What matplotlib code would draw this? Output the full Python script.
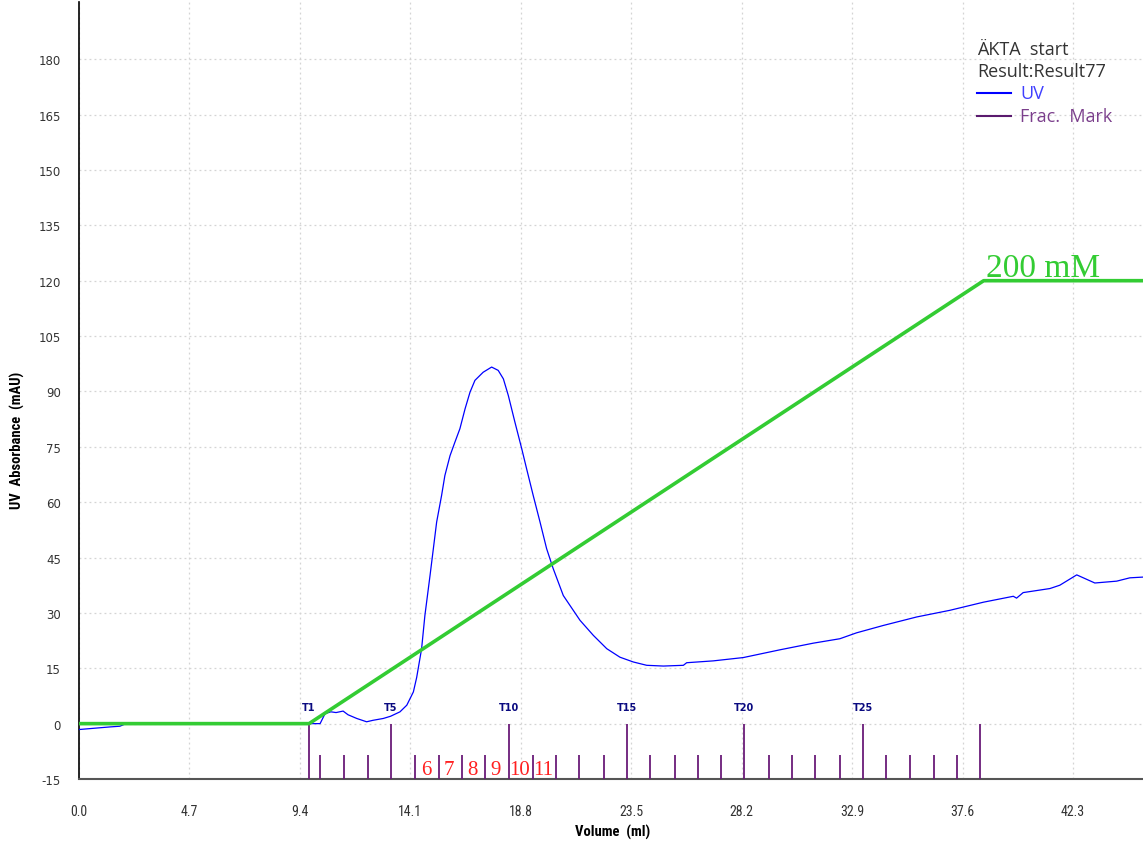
import matplotlib
matplotlib.use("Agg")
import matplotlib.pyplot as plt
from matplotlib import font_manager

# UV trace (volume in ml, absorbance in mAU)
uv_ml = [0.0, 1.3, 1.74, 2.0, 9.79, 10.26, 10.47, 10.72, 10.94, 11.24, 11.45, 11.82,
         12.24, 12.51, 12.95, 13.26, 13.66, 13.95, 14.23, 14.37, 14.58, 14.72, 14.94,
         15.08, 15.22, 15.43, 15.57, 15.79, 16.0, 16.21, 16.43, 16.64, 16.85, 17.2,
         17.56, 17.84, 18.06, 18.27, 18.55, 18.84, 19.05, 19.33, 19.62, 19.9, 20.18,
         20.61, 21.32, 21.89, 22.46, 23.02, 23.59, 24.16, 24.87, 25.72, 25.86, 26.99,
         28.27, 29.83, 31.25, 32.38, 33.09, 34.23, 35.65, 37.06, 38.49, 39.76, 39.9,
         40.18, 41.32, 41.74, 42.46, 43.23, 44.16, 44.72, 45.28]
uv_mau = [-1.6, -0.9, -0.7, 0.0, 0.0, 0.0, 2.7, 3.2, 3.0, 3.4, 2.4, 1.4,
          0.5, 0.9, 1.4, 2.0, 3.2, 5.0, 8.6, 12.5, 20.3, 29.3, 40.2,
          47.4, 54.6, 61.8, 67.2, 72.6, 76.3, 79.9, 85.3, 89.8, 93.0, 95.2,
          96.6, 95.7, 93.4, 88.9, 81.7, 74.5, 69.0, 61.8, 54.6, 47.4, 42.0,
          34.7, 28.0, 23.9, 20.3, 18.0, 16.7, 15.8, 15.6, 15.8, 16.5, 17.0,
          17.9, 20.0, 21.8, 23.0, 24.6, 26.6, 28.9, 30.7, 32.9, 34.5, 34.0,
          35.5, 36.6, 37.5, 40.3, 38.1, 38.6, 39.5, 39.7]

# Salt gradient (drawn on the mAU scale, 120 = 200 mM)
grad_ml = [0.0, 9.79, 38.5, 45.28]
grad_val = [0.0, 0.0, 120.0, 120.0]

# Fraction marks T1..T30
frac_ml = [9.79, 10.26, 11.28, 12.30, 13.26, 14.30, 15.32, 16.30, 17.28, 18.31,
           19.32, 20.30, 21.28, 22.33, 23.32, 24.30, 25.35, 26.33, 27.32, 28.31,
           29.36, 30.34, 31.33, 32.37, 33.35, 34.34, 35.35, 36.38, 37.36, 38.35]
frac_labeled = [1, 5, 10, 15, 20, 25]
collected = [6, 7, 8, 9, 10, 11]

x_ticks = [0.0, 4.7, 9.4, 14.1, 18.8, 23.5, 28.2, 32.9, 37.6, 42.3]
y_ticks = list(range(-15, 181, 15))


def pick_font(*names):
    avail = {f.name for f in font_manager.fontManager.ttflist}
    for n in names:
        if n in avail:
            return n
    return "DejaVu Sans"


narrow = pick_font("Liberation Sans Narrow", "DejaVu Sans Condensed", "Roboto Condensed", "DejaVu Sans")
legend_font = pick_font("Open Sans", "DejaVu Sans")

W, H = 1143, 845
fig = plt.figure(figsize=(W / 100, H / 100), dpi=100)
ax = fig.add_axes([79 / W, 1 - 780 / H, (W - 79) / W, (780 - 3) / H])

ax.set_xlim(0, 45.28)
ax.set_ylim(-15, 195.5)

# grid
ax.set_xticks(x_ticks)
ax.set_yticks(y_ticks)
ax.grid(True, color="#d4d4d4", linestyle=(0, (1.5, 2.5)), linewidth=0.9)
ax.set_axisbelow(True)

for s in ("top", "right"):
    ax.spines[s].set_visible(False)
ax.spines["left"].set_color("black")
ax.spines["left"].set_linewidth(1.2)
ax.spines["bottom"].set_color("#555555")
ax.spines["bottom"].set_linewidth(1.5)

ax.tick_params(axis="both", length=0, colors="#333333")
ax.tick_params(axis="y", pad=13, labelsize=8.5)
ax.tick_params(axis="x", pad=18, labelsize=10)
ax.set_xticklabels([f"{v:.1f}" for v in x_ticks], fontfamily=narrow)
ax.set_yticklabels([str(v) for v in y_ticks], fontfamily="DejaVu Sans")

ax.set_xlabel("Volume  (ml)", fontsize=10.5, fontweight="bold", fontfamily=narrow)
ax.set_ylabel("UV  Absorbance  (mAU)", fontsize=10.5, fontweight="bold",
              fontfamily=narrow)
ax.xaxis.set_label_coords((613 - 79) / (W - 79), -(825 - 780) / (780 - 3))
ax.yaxis.set_label_coords(-(79 - 25) / (W - 79), (780 - 440) / (780 - 3))

# fraction marks
mark_color = "#6a1b78"
for i, x in enumerate(frac_ml, start=1):
    top = 0.0 if (i == 1 or i % 5 == 0) else -8.4
    ax.plot([x, x], [-15, top], color=mark_color, linewidth=1.3, solid_capstyle="butt",
            zorder=3)
for n in frac_labeled:
    ax.text(frac_ml[n - 1], 4.6, f"T{n}", ha="center", va="center", fontsize=7,
            fontweight="bold", color="#0a0a80", fontfamily="DejaVu Sans")
for n in collected:
    mid = (frac_ml[n - 1] + frac_ml[n]) / 2
    ax.text(mid - 0.05, -12.3, str(n), ha="center", va="center", fontsize=15,
            color="#ff2020", fontfamily="Liberation Serif")

# UV curve and gradient
ax.plot(uv_ml, uv_mau, color="#0000ff", linewidth=0.9, zorder=4)
ax.plot(grad_ml, grad_val, color="#33cc33", linewidth=2.6, zorder=5,
        solid_capstyle="butt")
ax.text(38.6, 121.4, "200 mM", ha="left", va="baseline", fontsize=24,
        color="#33cc33", fontfamily="Liberation Serif")

# header / legend block
def fx(px):
    return px / W


def fy(py):
    return 1 - py / H


fig.text(fx(977), fy(50), "ÄKTA  start", fontsize=13, color="#333333",
         fontfamily=legend_font, va="center")
fig.text(fx(977), fy(72), "Result:Result77", fontsize=13, color="#333333",
         fontfamily=legend_font, va="center")
fig.add_artist(plt.Line2D([fx(977), fx(1011)], [fy(94), fy(94)], color="#0000ff",
                          linewidth=1.5))
fig.text(fx(1020), fy(94), "UV", fontsize=13, color="#4040ff",
         fontfamily=legend_font, va="center")
fig.add_artist(plt.Line2D([fx(977), fx(1011)], [fy(117), fy(117)], color="#5a1a6e",
                          linewidth=1.5))
fig.text(fx(1020), fy(117), "Frac.  Mark", fontsize=13, color="#7b3f8c",
         fontfamily=legend_font, va="center")

fig.savefig("out.png", dpi=100)
